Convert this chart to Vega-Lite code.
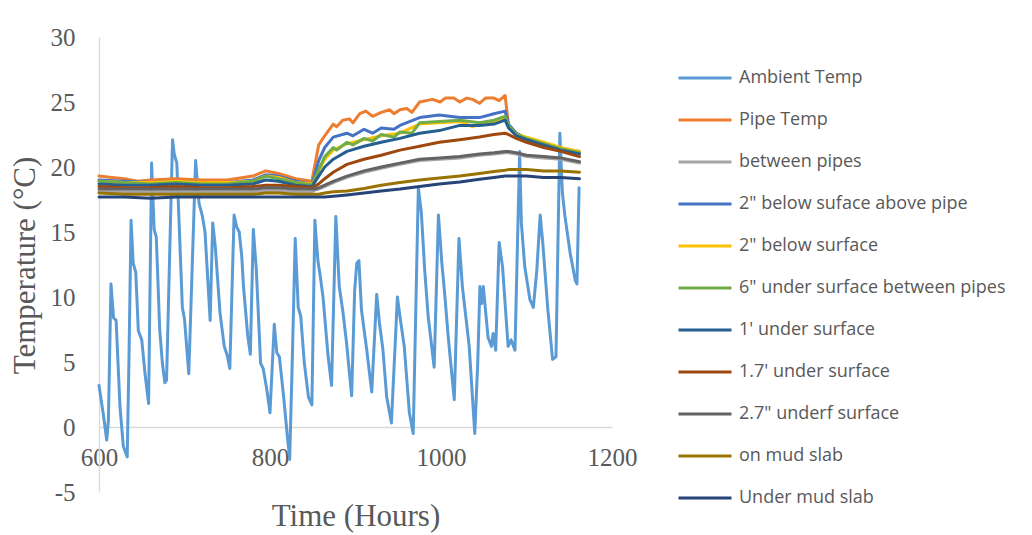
{
"$schema": "https://vega.github.io/schema/vega-lite/v6.json",
"width": 513, "height": 455,
"autosize": {"type": "none"},
"padding": {"left": 99, "top": 37, "right": 420, "bottom": 43},
"background": "white",
"config": {"view": {"stroke": null}},
"data": {"values": [
{"t":600,"s":"Ambient Temp","v":3.2},{"t":605,"s":"Ambient Temp","v":1.0},{"t":609,"s":"Ambient Temp","v":-1.0},{"t":611,"s":"Ambient Temp","v":0.5},{"t":614,"s":"Ambient Temp","v":11.0},{"t":617,"s":"Ambient Temp","v":8.4},{"t":620,"s":"Ambient Temp","v":8.2},{"t":624.6,"s":"Ambient Temp","v":1.5},{"t":628.5,"s":"Ambient Temp","v":-1.5},{"t":633,"s":"Ambient Temp","v":-2.3},{"t":635,"s":"Ambient Temp","v":5.0},{"t":637.5,"s":"Ambient Temp","v":15.9},{"t":640,"s":"Ambient Temp","v":12.6},{"t":643,"s":"Ambient Temp","v":11.9},{"t":646,"s":"Ambient Temp","v":7.4},{"t":650,"s":"Ambient Temp","v":6.7},{"t":654,"s":"Ambient Temp","v":4.0},{"t":658,"s":"Ambient Temp","v":1.8},{"t":661.5,"s":"Ambient Temp","v":20.3},{"t":664.5,"s":"Ambient Temp","v":15.2},{"t":667,"s":"Ambient Temp","v":14.6},{"t":671,"s":"Ambient Temp","v":7.5},{"t":674,"s":"Ambient Temp","v":5.0},{"t":677,"s":"Ambient Temp","v":3.4},{"t":679,"s":"Ambient Temp","v":3.6},{"t":686,"s":"Ambient Temp","v":22.1},{"t":688,"s":"Ambient Temp","v":21.0},{"t":691,"s":"Ambient Temp","v":20.3},{"t":697.5,"s":"Ambient Temp","v":9.2},{"t":700,"s":"Ambient Temp","v":8.3},{"t":705,"s":"Ambient Temp","v":4.1},{"t":713,"s":"Ambient Temp","v":20.5},{"t":717,"s":"Ambient Temp","v":17.2},{"t":721,"s":"Ambient Temp","v":16.2},{"t":724,"s":"Ambient Temp","v":15.0},{"t":730,"s":"Ambient Temp","v":8.2},{"t":733,"s":"Ambient Temp","v":15.7},{"t":736,"s":"Ambient Temp","v":13.9},{"t":741.5,"s":"Ambient Temp","v":8.8},{"t":746.5,"s":"Ambient Temp","v":6.2},{"t":750,"s":"Ambient Temp","v":5.5},{"t":753,"s":"Ambient Temp","v":4.5},{"t":758,"s":"Ambient Temp","v":16.3},{"t":761,"s":"Ambient Temp","v":15.4},{"t":764,"s":"Ambient Temp","v":15.0},{"t":767,"s":"Ambient Temp","v":13.1},{"t":769,"s":"Ambient Temp","v":10.8},{"t":774,"s":"Ambient Temp","v":7.0},{"t":777,"s":"Ambient Temp","v":5.6},{"t":780.5,"s":"Ambient Temp","v":15.2},{"t":784,"s":"Ambient Temp","v":12.1},{"t":789,"s":"Ambient Temp","v":4.9},{"t":792,"s":"Ambient Temp","v":4.5},{"t":796,"s":"Ambient Temp","v":3.0},{"t":800,"s":"Ambient Temp","v":1.1},{"t":805,"s":"Ambient Temp","v":7.9},{"t":808,"s":"Ambient Temp","v":5.7},{"t":811,"s":"Ambient Temp","v":5.4},{"t":816,"s":"Ambient Temp","v":2.3},{"t":820,"s":"Ambient Temp","v":-0.5},{"t":823,"s":"Ambient Temp","v":-2.5},{"t":826,"s":"Ambient Temp","v":5.0},{"t":829.5,"s":"Ambient Temp","v":14.5},{"t":833,"s":"Ambient Temp","v":9.2},{"t":836,"s":"Ambient Temp","v":8.5},{"t":840,"s":"Ambient Temp","v":5.0},{"t":845,"s":"Ambient Temp","v":2.3},{"t":849,"s":"Ambient Temp","v":1.7},{"t":852.5,"s":"Ambient Temp","v":15.9},{"t":856,"s":"Ambient Temp","v":12.8},{"t":859,"s":"Ambient Temp","v":11.5},{"t":862,"s":"Ambient Temp","v":10.0},{"t":868,"s":"Ambient Temp","v":5.4},{"t":872,"s":"Ambient Temp","v":3.2},{"t":877,"s":"Ambient Temp","v":16.2},{"t":881,"s":"Ambient Temp","v":10.8},{"t":885,"s":"Ambient Temp","v":9.0},{"t":889.5,"s":"Ambient Temp","v":6.5},{"t":895.5,"s":"Ambient Temp","v":2.4},{"t":899,"s":"Ambient Temp","v":10.5},{"t":901.5,"s":"Ambient Temp","v":12.6},{"t":904,"s":"Ambient Temp","v":12.8},{"t":907,"s":"Ambient Temp","v":9.0},{"t":913,"s":"Ambient Temp","v":6.0},{"t":919,"s":"Ambient Temp","v":2.7},{"t":924.8,"s":"Ambient Temp","v":10.2},{"t":928,"s":"Ambient Temp","v":8.0},{"t":932,"s":"Ambient Temp","v":6.0},{"t":936.5,"s":"Ambient Temp","v":2.3},{"t":942,"s":"Ambient Temp","v":0.3},{"t":949,"s":"Ambient Temp","v":10.0},{"t":952,"s":"Ambient Temp","v":8.5},{"t":957,"s":"Ambient Temp","v":6.2},{"t":963,"s":"Ambient Temp","v":1.1},{"t":967.5,"s":"Ambient Temp","v":-0.5},{"t":973.5,"s":"Ambient Temp","v":18.4},{"t":977,"s":"Ambient Temp","v":16.5},{"t":981,"s":"Ambient Temp","v":12.0},{"t":985,"s":"Ambient Temp","v":8.5},{"t":992,"s":"Ambient Temp","v":4.6},{"t":997,"s":"Ambient Temp","v":16.3},{"t":1001,"s":"Ambient Temp","v":12.6},{"t":1004,"s":"Ambient Temp","v":10.5},{"t":1008.5,"s":"Ambient Temp","v":6.9},{"t":1015.5,"s":"Ambient Temp","v":2.1},{"t":1021,"s":"Ambient Temp","v":14.5},{"t":1025,"s":"Ambient Temp","v":10.8},{"t":1029,"s":"Ambient Temp","v":8.5},{"t":1033,"s":"Ambient Temp","v":6.2},{"t":1039.5,"s":"Ambient Temp","v":-0.5},{"t":1043,"s":"Ambient Temp","v":5.0},{"t":1045.5,"s":"Ambient Temp","v":10.8},{"t":1047.5,"s":"Ambient Temp","v":9.5},{"t":1049.5,"s":"Ambient Temp","v":10.8},{"t":1055,"s":"Ambient Temp","v":6.9},{"t":1059,"s":"Ambient Temp","v":6.2},{"t":1061,"s":"Ambient Temp","v":7.2},{"t":1064,"s":"Ambient Temp","v":5.9},{"t":1068,"s":"Ambient Temp","v":14.2},{"t":1072,"s":"Ambient Temp","v":12.3},{"t":1078.5,"s":"Ambient Temp","v":6.2},{"t":1082,"s":"Ambient Temp","v":6.7},{"t":1086.5,"s":"Ambient Temp","v":5.9},{"t":1092,"s":"Ambient Temp","v":21.2},{"t":1094,"s":"Ambient Temp","v":15.7},{"t":1098,"s":"Ambient Temp","v":12.3},{"t":1104,"s":"Ambient Temp","v":9.8},{"t":1108,"s":"Ambient Temp","v":9.2},{"t":1112,"s":"Ambient Temp","v":12.0},{"t":1116,"s":"Ambient Temp","v":16.3},{"t":1119,"s":"Ambient Temp","v":14.2},{"t":1125,"s":"Ambient Temp","v":9.0},{"t":1130.5,"s":"Ambient Temp","v":5.2},{"t":1134.5,"s":"Ambient Temp","v":5.4},{"t":1139,"s":"Ambient Temp","v":22.6},{"t":1142,"s":"Ambient Temp","v":18.0},{"t":1145,"s":"Ambient Temp","v":16.2},{"t":1151,"s":"Ambient Temp","v":13.4},{"t":1157,"s":"Ambient Temp","v":11.3},{"t":1159,"s":"Ambient Temp","v":11.0},{"t":1161.5,"s":"Ambient Temp","v":18.4},

{"t":600,"s":"Pipe Temp","v":19.3},{"t":615,"s":"Pipe Temp","v":19.2},{"t":630,"s":"Pipe Temp","v":19.1},{"t":645,"s":"Pipe Temp","v":18.9},{"t":660,"s":"Pipe Temp","v":19.0},{"t":690,"s":"Pipe Temp","v":19.1},{"t":720,"s":"Pipe Temp","v":19.0},{"t":750,"s":"Pipe Temp","v":19.0},{"t":780,"s":"Pipe Temp","v":19.3},{"t":795,"s":"Pipe Temp","v":19.7},{"t":810,"s":"Pipe Temp","v":19.5},{"t":830,"s":"Pipe Temp","v":19.1},{"t":849,"s":"Pipe Temp","v":18.9},{"t":852,"s":"Pipe Temp","v":20.0},{"t":857,"s":"Pipe Temp","v":21.7},{"t":864,"s":"Pipe Temp","v":22.4},{"t":874,"s":"Pipe Temp","v":23.3},{"t":878,"s":"Pipe Temp","v":23.1},{"t":885,"s":"Pipe Temp","v":23.6},{"t":893,"s":"Pipe Temp","v":23.7},{"t":897,"s":"Pipe Temp","v":23.4},{"t":905,"s":"Pipe Temp","v":24.1},{"t":912,"s":"Pipe Temp","v":24.3},{"t":920,"s":"Pipe Temp","v":23.9},{"t":930,"s":"Pipe Temp","v":24.2},{"t":940,"s":"Pipe Temp","v":24.4},{"t":945,"s":"Pipe Temp","v":24.1},{"t":952,"s":"Pipe Temp","v":24.4},{"t":960,"s":"Pipe Temp","v":24.5},{"t":966,"s":"Pipe Temp","v":24.2},{"t":975,"s":"Pipe Temp","v":25.0},{"t":990,"s":"Pipe Temp","v":25.2},{"t":999,"s":"Pipe Temp","v":25.0},{"t":1005,"s":"Pipe Temp","v":25.3},{"t":1015,"s":"Pipe Temp","v":25.3},{"t":1022,"s":"Pipe Temp","v":25.0},{"t":1030,"s":"Pipe Temp","v":25.3},{"t":1037,"s":"Pipe Temp","v":25.2},{"t":1045,"s":"Pipe Temp","v":24.9},{"t":1052,"s":"Pipe Temp","v":25.3},{"t":1062,"s":"Pipe Temp","v":25.3},{"t":1068,"s":"Pipe Temp","v":25.1},{"t":1075,"s":"Pipe Temp","v":25.5},{"t":1079,"s":"Pipe Temp","v":23.2},{"t":1088,"s":"Pipe Temp","v":22.6},{"t":1100,"s":"Pipe Temp","v":22.1},{"t":1120,"s":"Pipe Temp","v":21.7},{"t":1140,"s":"Pipe Temp","v":21.3},{"t":1162,"s":"Pipe Temp","v":21.1},

{"t":600,"s":"between pipes","v":18.1},{"t":630,"s":"between pipes","v":18.1},{"t":660,"s":"between pipes","v":18.1},{"t":690,"s":"between pipes","v":18.1},{"t":720,"s":"between pipes","v":18.1},{"t":750,"s":"between pipes","v":18.1},{"t":780,"s":"between pipes","v":18.1},{"t":795,"s":"between pipes","v":18.2},{"t":810,"s":"between pipes","v":18.2},{"t":830,"s":"between pipes","v":18.1},{"t":849,"s":"between pipes","v":18.1},{"t":852,"s":"between pipes","v":18.2},{"t":857,"s":"between pipes","v":18.3},{"t":864,"s":"between pipes","v":18.5},{"t":874,"s":"between pipes","v":18.8},{"t":890,"s":"between pipes","v":19.2},{"t":910,"s":"between pipes","v":19.6},{"t":930,"s":"between pipes","v":19.9},{"t":952,"s":"between pipes","v":20.2},{"t":975,"s":"between pipes","v":20.5},{"t":998,"s":"between pipes","v":20.6},{"t":1022,"s":"between pipes","v":20.7},{"t":1045,"s":"between pipes","v":20.9},{"t":1062,"s":"between pipes","v":21.0},{"t":1075,"s":"between pipes","v":21.1},{"t":1079,"s":"between pipes","v":21.1},{"t":1088,"s":"between pipes","v":21.0},{"t":1100,"s":"between pipes","v":20.8},{"t":1120,"s":"between pipes","v":20.7},{"t":1140,"s":"between pipes","v":20.6},{"t":1162,"s":"between pipes","v":20.3},

{"t":600,"s":"2\" below suface above pipe","v":19.0},{"t":630,"s":"2\" below suface above pipe","v":18.9},{"t":660,"s":"2\" below suface above pipe","v":18.8},{"t":690,"s":"2\" below suface above pipe","v":18.9},{"t":720,"s":"2\" below suface above pipe","v":18.8},{"t":750,"s":"2\" below suface above pipe","v":18.8},{"t":780,"s":"2\" below suface above pipe","v":19.0},{"t":795,"s":"2\" below suface above pipe","v":19.4},{"t":810,"s":"2\" below suface above pipe","v":19.3},{"t":830,"s":"2\" below suface above pipe","v":18.9},{"t":849,"s":"2\" below suface above pipe","v":18.7},{"t":852,"s":"2\" below suface above pipe","v":19.3},{"t":857,"s":"2\" below suface above pipe","v":20.5},{"t":864,"s":"2\" below suface above pipe","v":21.5},{"t":874,"s":"2\" below suface above pipe","v":22.3},{"t":890,"s":"2\" below suface above pipe","v":22.6},{"t":897,"s":"2\" below suface above pipe","v":22.4},{"t":910,"s":"2\" below suface above pipe","v":22.9},{"t":920,"s":"2\" below suface above pipe","v":22.6},{"t":930,"s":"2\" below suface above pipe","v":23.0},{"t":945,"s":"2\" below suface above pipe","v":22.9},{"t":952,"s":"2\" below suface above pipe","v":23.2},{"t":975,"s":"2\" below suface above pipe","v":23.8},{"t":998,"s":"2\" below suface above pipe","v":24.0},{"t":1022,"s":"2\" below suface above pipe","v":23.8},{"t":1045,"s":"2\" below suface above pipe","v":23.8},{"t":1062,"s":"2\" below suface above pipe","v":24.1},{"t":1075,"s":"2\" below suface above pipe","v":24.3},{"t":1079,"s":"2\" below suface above pipe","v":23.3},{"t":1088,"s":"2\" below suface above pipe","v":22.6},{"t":1100,"s":"2\" below suface above pipe","v":22.2},{"t":1120,"s":"2\" below suface above pipe","v":21.7},{"t":1140,"s":"2\" below suface above pipe","v":21.4},{"t":1162,"s":"2\" below suface above pipe","v":21.2},

{"t":600,"s":"2\" below surface","v":18.9},{"t":630,"s":"2\" below surface","v":18.8},{"t":660,"s":"2\" below surface","v":18.8},{"t":690,"s":"2\" below surface","v":18.9},{"t":720,"s":"2\" below surface","v":18.8},{"t":750,"s":"2\" below surface","v":18.8},{"t":780,"s":"2\" below surface","v":18.9},{"t":795,"s":"2\" below surface","v":19.3},{"t":810,"s":"2\" below surface","v":19.2},{"t":830,"s":"2\" below surface","v":18.8},{"t":849,"s":"2\" below surface","v":18.7},{"t":852,"s":"2\" below surface","v":19.0},{"t":857,"s":"2\" below surface","v":19.7},{"t":864,"s":"2\" below surface","v":20.6},{"t":874,"s":"2\" below surface","v":21.3},{"t":890,"s":"2\" below surface","v":21.8},{"t":910,"s":"2\" below surface","v":22.1},{"t":930,"s":"2\" below surface","v":22.4},{"t":952,"s":"2\" below surface","v":22.6},{"t":975,"s":"2\" below surface","v":23.3},{"t":998,"s":"2\" below surface","v":23.4},{"t":1022,"s":"2\" below surface","v":23.5},{"t":1037,"s":"2\" below surface","v":23.1},{"t":1045,"s":"2\" below surface","v":23.3},{"t":1062,"s":"2\" below surface","v":23.5},{"t":1075,"s":"2\" below surface","v":23.8},{"t":1079,"s":"2\" below surface","v":23.1},{"t":1088,"s":"2\" below surface","v":22.5},{"t":1100,"s":"2\" below surface","v":22.3},{"t":1120,"s":"2\" below surface","v":21.9},{"t":1140,"s":"2\" below surface","v":21.5},{"t":1162,"s":"2\" below surface","v":21.2},

{"t":600,"s":"6\" under surface between pipes","v":18.9},{"t":630,"s":"6\" under surface between pipes","v":18.8},{"t":660,"s":"6\" under surface between pipes","v":18.7},{"t":690,"s":"6\" under surface between pipes","v":18.8},{"t":720,"s":"6\" under surface between pipes","v":18.7},{"t":750,"s":"6\" under surface between pipes","v":18.7},{"t":780,"s":"6\" under surface between pipes","v":18.9},{"t":795,"s":"6\" under surface between pipes","v":19.3},{"t":810,"s":"6\" under surface between pipes","v":19.1},{"t":830,"s":"6\" under surface between pipes","v":18.8},{"t":849,"s":"6\" under surface between pipes","v":18.6},{"t":852,"s":"6\" under surface between pipes","v":19.0},{"t":857,"s":"6\" under surface between pipes","v":19.8},{"t":864,"s":"6\" under surface between pipes","v":20.8},{"t":874,"s":"6\" under surface between pipes","v":21.5},{"t":878,"s":"6\" under surface between pipes","v":21.3},{"t":890,"s":"6\" under surface between pipes","v":21.9},{"t":897,"s":"6\" under surface between pipes","v":21.7},{"t":910,"s":"6\" under surface between pipes","v":22.2},{"t":920,"s":"6\" under surface between pipes","v":22.0},{"t":930,"s":"6\" under surface between pipes","v":22.5},{"t":945,"s":"6\" under surface between pipes","v":22.3},{"t":952,"s":"6\" under surface between pipes","v":22.7},{"t":966,"s":"6\" under surface between pipes","v":22.6},{"t":975,"s":"6\" under surface between pipes","v":23.4},{"t":998,"s":"6\" under surface between pipes","v":23.5},{"t":1022,"s":"6\" under surface between pipes","v":23.6},{"t":1045,"s":"6\" under surface between pipes","v":23.4},{"t":1062,"s":"6\" under surface between pipes","v":23.6},{"t":1075,"s":"6\" under surface between pipes","v":23.9},{"t":1079,"s":"6\" under surface between pipes","v":23.2},{"t":1088,"s":"6\" under surface between pipes","v":22.5},{"t":1100,"s":"6\" under surface between pipes","v":22.2},{"t":1120,"s":"6\" under surface between pipes","v":21.8},{"t":1140,"s":"6\" under surface between pipes","v":21.4},{"t":1162,"s":"6\" under surface between pipes","v":21.1},

{"t":600,"s":"1' under surface","v":18.7},{"t":630,"s":"1' under surface","v":18.6},{"t":660,"s":"1' under surface","v":18.6},{"t":690,"s":"1' under surface","v":18.7},{"t":720,"s":"1' under surface","v":18.6},{"t":750,"s":"1' under surface","v":18.6},{"t":780,"s":"1' under surface","v":18.7},{"t":795,"s":"1' under surface","v":19.0},{"t":810,"s":"1' under surface","v":18.9},{"t":830,"s":"1' under surface","v":18.6},{"t":849,"s":"1' under surface","v":18.5},{"t":852,"s":"1' under surface","v":18.8},{"t":857,"s":"1' under surface","v":19.3},{"t":864,"s":"1' under surface","v":20.0},{"t":874,"s":"1' under surface","v":20.6},{"t":890,"s":"1' under surface","v":21.2},{"t":910,"s":"1' under surface","v":21.6},{"t":930,"s":"1' under surface","v":21.9},{"t":952,"s":"1' under surface","v":22.2},{"t":975,"s":"1' under surface","v":22.6},{"t":998,"s":"1' under surface","v":22.8},{"t":1022,"s":"1' under surface","v":23.2},{"t":1045,"s":"1' under surface","v":23.2},{"t":1062,"s":"1' under surface","v":23.3},{"t":1075,"s":"1' under surface","v":23.6},{"t":1079,"s":"1' under surface","v":23.0},{"t":1088,"s":"1' under surface","v":22.4},{"t":1100,"s":"1' under surface","v":22.1},{"t":1120,"s":"1' under surface","v":21.7},{"t":1140,"s":"1' under surface","v":21.3},{"t":1162,"s":"1' under surface","v":21.0},

{"t":600,"s":"1.7' under surface","v":18.5},{"t":630,"s":"1.7' under surface","v":18.4},{"t":660,"s":"1.7' under surface","v":18.4},{"t":690,"s":"1.7' under surface","v":18.5},{"t":720,"s":"1.7' under surface","v":18.4},{"t":750,"s":"1.7' under surface","v":18.4},{"t":780,"s":"1.7' under surface","v":18.5},{"t":795,"s":"1.7' under surface","v":18.6},{"t":810,"s":"1.7' under surface","v":18.6},{"t":830,"s":"1.7' under surface","v":18.5},{"t":849,"s":"1.7' under surface","v":18.4},{"t":852,"s":"1.7' under surface","v":18.5},{"t":857,"s":"1.7' under surface","v":18.7},{"t":864,"s":"1.7' under surface","v":19.1},{"t":874,"s":"1.7' under surface","v":19.6},{"t":890,"s":"1.7' under surface","v":20.2},{"t":910,"s":"1.7' under surface","v":20.6},{"t":930,"s":"1.7' under surface","v":20.9},{"t":952,"s":"1.7' under surface","v":21.3},{"t":975,"s":"1.7' under surface","v":21.6},{"t":998,"s":"1.7' under surface","v":21.9},{"t":1022,"s":"1.7' under surface","v":22.1},{"t":1045,"s":"1.7' under surface","v":22.3},{"t":1062,"s":"1.7' under surface","v":22.5},{"t":1075,"s":"1.7' under surface","v":22.6},{"t":1079,"s":"1.7' under surface","v":22.5},{"t":1088,"s":"1.7' under surface","v":22.2},{"t":1100,"s":"1.7' under surface","v":21.9},{"t":1120,"s":"1.7' under surface","v":21.5},{"t":1140,"s":"1.7' under surface","v":21.2},{"t":1162,"s":"1.7' under surface","v":20.8},

{"t":600,"s":"2.7\" underf surface","v":18.3},{"t":630,"s":"2.7\" underf surface","v":18.3},{"t":660,"s":"2.7\" underf surface","v":18.3},{"t":690,"s":"2.7\" underf surface","v":18.3},{"t":720,"s":"2.7\" underf surface","v":18.3},{"t":750,"s":"2.7\" underf surface","v":18.3},{"t":780,"s":"2.7\" underf surface","v":18.3},{"t":795,"s":"2.7\" underf surface","v":18.4},{"t":810,"s":"2.7\" underf surface","v":18.4},{"t":830,"s":"2.7\" underf surface","v":18.3},{"t":849,"s":"2.7\" underf surface","v":18.3},{"t":852,"s":"2.7\" underf surface","v":18.3},{"t":857,"s":"2.7\" underf surface","v":18.4},{"t":864,"s":"2.7\" underf surface","v":18.6},{"t":874,"s":"2.7\" underf surface","v":18.9},{"t":890,"s":"2.7\" underf surface","v":19.3},{"t":910,"s":"2.7\" underf surface","v":19.7},{"t":930,"s":"2.7\" underf surface","v":20.0},{"t":952,"s":"2.7\" underf surface","v":20.3},{"t":975,"s":"2.7\" underf surface","v":20.6},{"t":998,"s":"2.7\" underf surface","v":20.7},{"t":1022,"s":"2.7\" underf surface","v":20.8},{"t":1045,"s":"2.7\" underf surface","v":21.0},{"t":1062,"s":"2.7\" underf surface","v":21.1},{"t":1075,"s":"2.7\" underf surface","v":21.2},{"t":1079,"s":"2.7\" underf surface","v":21.2},{"t":1088,"s":"2.7\" underf surface","v":21.1},{"t":1100,"s":"2.7\" underf surface","v":20.9},{"t":1120,"s":"2.7\" underf surface","v":20.8},{"t":1140,"s":"2.7\" underf surface","v":20.7},{"t":1162,"s":"2.7\" underf surface","v":20.4},

{"t":600,"s":"on mud slab","v":18.0},{"t":630,"s":"on mud slab","v":17.9},{"t":660,"s":"on mud slab","v":17.9},{"t":690,"s":"on mud slab","v":17.9},{"t":720,"s":"on mud slab","v":17.9},{"t":750,"s":"on mud slab","v":17.9},{"t":780,"s":"on mud slab","v":17.9},{"t":795,"s":"on mud slab","v":18.0},{"t":810,"s":"on mud slab","v":18.0},{"t":830,"s":"on mud slab","v":17.9},{"t":849,"s":"on mud slab","v":17.9},{"t":852,"s":"on mud slab","v":17.9},{"t":857,"s":"on mud slab","v":17.9},{"t":864,"s":"on mud slab","v":18.0},{"t":874,"s":"on mud slab","v":18.1},{"t":890,"s":"on mud slab","v":18.15},{"t":910,"s":"on mud slab","v":18.35},{"t":930,"s":"on mud slab","v":18.6},{"t":952,"s":"on mud slab","v":18.8},{"t":975,"s":"on mud slab","v":19.0},{"t":998,"s":"on mud slab","v":19.15},{"t":1022,"s":"on mud slab","v":19.3},{"t":1045,"s":"on mud slab","v":19.5},{"t":1062,"s":"on mud slab","v":19.65},{"t":1075,"s":"on mud slab","v":19.75},{"t":1079,"s":"on mud slab","v":19.8},{"t":1088,"s":"on mud slab","v":19.8},{"t":1100,"s":"on mud slab","v":19.8},{"t":1120,"s":"on mud slab","v":19.7},{"t":1140,"s":"on mud slab","v":19.7},{"t":1162,"s":"on mud slab","v":19.6},

{"t":600,"s":"Under mud slab","v":17.7},{"t":630,"s":"Under mud slab","v":17.7},{"t":660,"s":"Under mud slab","v":17.6},{"t":690,"s":"Under mud slab","v":17.7},{"t":720,"s":"Under mud slab","v":17.7},{"t":750,"s":"Under mud slab","v":17.7},{"t":780,"s":"Under mud slab","v":17.7},{"t":795,"s":"Under mud slab","v":17.7},{"t":810,"s":"Under mud slab","v":17.7},{"t":830,"s":"Under mud slab","v":17.7},{"t":849,"s":"Under mud slab","v":17.7},{"t":852,"s":"Under mud slab","v":17.7},{"t":857,"s":"Under mud slab","v":17.7},{"t":864,"s":"Under mud slab","v":17.7},{"t":874,"s":"Under mud slab","v":17.75},{"t":890,"s":"Under mud slab","v":17.85},{"t":910,"s":"Under mud slab","v":18.0},{"t":930,"s":"Under mud slab","v":18.15},{"t":952,"s":"Under mud slab","v":18.3},{"t":975,"s":"Under mud slab","v":18.5},{"t":998,"s":"Under mud slab","v":18.7},{"t":1022,"s":"Under mud slab","v":18.85},{"t":1045,"s":"Under mud slab","v":19.05},{"t":1062,"s":"Under mud slab","v":19.2},{"t":1075,"s":"Under mud slab","v":19.3},{"t":1079,"s":"Under mud slab","v":19.3},{"t":1088,"s":"Under mud slab","v":19.3},{"t":1100,"s":"Under mud slab","v":19.3},{"t":1120,"s":"Under mud slab","v":19.2},{"t":1140,"s":"Under mud slab","v":19.2},{"t":1162,"s":"Under mud slab","v":19.1}
]},
"mark": {"type": "line", "strokeWidth": 3, "strokeJoin": "round", "strokeCap": "round"},
"encoding": {
  "x": {"field": "t", "type": "quantitative",
    "scale": {"domain": [600, 1200], "nice": false, "zero": false},
    "axis": {"values": [600, 800, 1000, 1200], "offset": -65, "ticks": false, "tickSize": 0, "grid": false,
      "domainColor": "#D9D9D9", "domainWidth": 1.3,
      "labelExpr": "toString(datum.value)",
      "labelFont": "Liberation Serif", "labelFontSize": 25, "labelColor": "#595959",
      "labelBaseline": "alphabetic", "labelPadding": 38, "labelFlush": false, "labelOverlap": false,
      "title": "Time (Hours)", "titleFont": "Liberation Serif", "titleFontSize": 31, "titleFontWeight": "normal",
      "titleColor": "#595959", "titleBaseline": "alphabetic", "titleY": 98}},
  "y": {"field": "v", "type": "quantitative",
    "scale": {"domain": [-5, 30], "nice": false, "zero": false},
    "axis": {"values": [-5, 0, 5, 10, 15, 20, 25, 30], "ticks": false, "tickSize": 0, "grid": false,
      "domainColor": "#D9D9D9", "domainWidth": 1.3,
      "labelExpr": "toString(datum.value)",
      "labelFont": "Liberation Serif", "labelFontSize": 25, "labelColor": "#595959", "labelPadding": 24,
      "labelFlush": false, "labelOverlap": false,
      "title": "Temperature (°C)", "titleFont": "Liberation Serif", "titleFontSize": 31, "titleFontWeight": "normal",
      "titleColor": "#595959", "titleBaseline": "alphabetic", "titleX": -65, "titleY": 228, "titleAlign": "center", "titleAngle": -90}},
  "color": {"field": "s", "type": "nominal",
    "scale": {
      "domain": ["Ambient Temp", "Pipe Temp", "between pipes", "2\" below suface above pipe", "2\" below surface", "6\" under surface between pipes", "1' under surface", "1.7' under surface", "2.7\" underf surface", "on mud slab", "Under mud slab"],
      "range": ["#5B9BD5", "#ED7D31", "#A5A5A5", "#4472C4", "#FFC000", "#70AD47", "#255E91", "#9E480E", "#636363", "#997300", "#264478"]},
    "legend": {"orient": "none", "legendX": 578, "legendY": 31, "title": null, "padding": 0,
      "symbolType": "stroke", "symbolSize": 2809, "symbolStrokeWidth": 3, "symbolOffset": 0,
      "clipHeight": 20, "rowPadding": 22,
      "labelFont": "Open Sans", "labelFontSize": 18, "labelColor": "#595959", "labelOffset": 6, "labelLimit": 400}}
}
}
